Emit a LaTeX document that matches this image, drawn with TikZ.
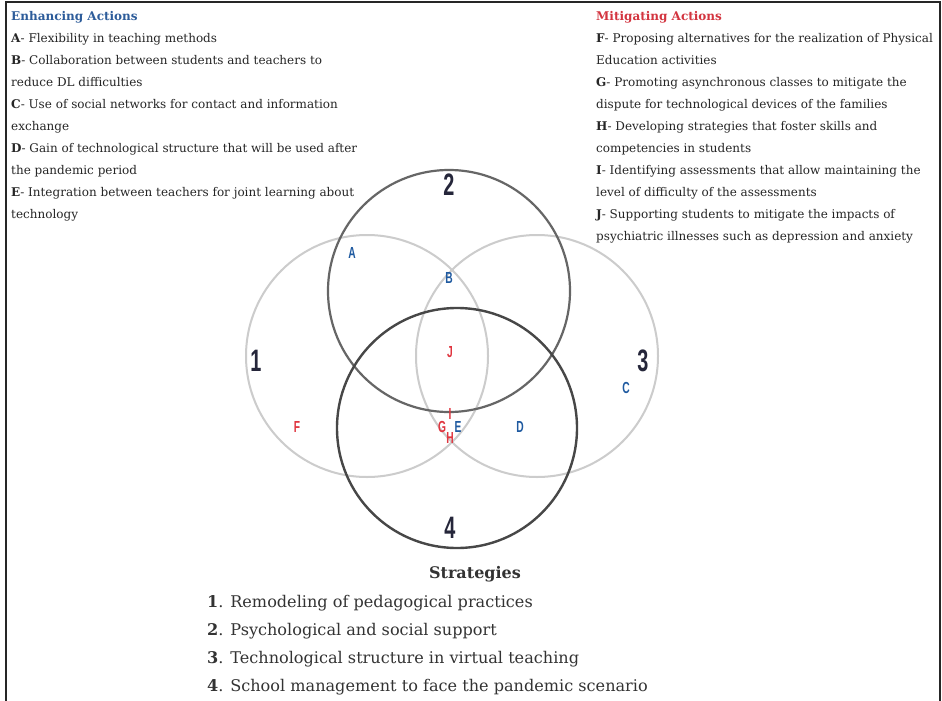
\documentclass[tikz,border=0pt]{standalone}
\usepackage{fontspec}
\usepackage{graphicx}
\setmainfont{DejaVu Serif}
\newfontfamily\numfont{Liberation Sans}
\usetikzlibrary{positioning}
\definecolor{enhblue}{HTML}{2D5C9A}
\definecolor{mitred}{HTML}{D3343F}
\definecolor{labblue}{HTML}{1F5AA0}
\definecolor{labred}{HTML}{E0353F}
\definecolor{numdark}{HTML}{25263A}
\newcommand{\condensed}[1]{\scalebox{0.64}[1]{#1}}

\begin{document}
\begin{tikzpicture}[x=1pt, y=-1pt,
	txt/.style={anchor=base west, inner sep=0pt, font=\fontsize{12}{14}\selectfont, text=black!85},
	strat/.style={anchor=base west, inner sep=0pt, font=\fontsize{16.1}{18}\selectfont, text=black!80},
	setnum/.style={inner sep=0pt, font=\numfont\bfseries\fontsize{31}{31}\selectfont, text=numdark},
	blue lab/.style={inner sep=0pt, font=\numfont\bfseries\fontsize{16}{16}\selectfont, text=labblue},
	red lab/.style={inner sep=0pt, font=\numfont\bfseries\fontsize{16}{16}\selectfont, text=labred}]
		\useasboundingbox (0,0) rectangle (942,701);
		\fill[white] (0,0) rectangle (942,701);
		%\draw [help lines, step=50] (0,0) grid (942,701);
		\draw [line width=2.2pt, black!85] (6,701) -- (6,2) -- (940,2) -- (940,701);

		% sets
		\coordinate (c1) at (367,356);
		\coordinate (c2) at (449,291);
		\coordinate (c3) at (537,356);
		\coordinate (c4) at (457,428);
		\draw [line width=2pt, black!20] (c1) circle [radius=121];
		\draw [line width=2pt, black!20] (c3) circle [radius=121];
		\draw [line width=2.2pt, black!60] (c2) circle [radius=121];
		\draw [line width=2.4pt, black!72] (c4) circle [radius=120];

		\node [setnum] (n1) at (256,361) {\condensed{1}};
		\node [setnum] (n2) at (449,185) {\condensed{2}};
		\node [setnum] (n3) at (643,361) {\condensed{3}};
		\node [setnum] (n4) at (450,528) {\condensed{4}};

		\node [blue lab] (A) at (352,253) {\condensed{A}};
		\node [blue lab] (B) at (449,278) {\condensed{B}};
		\node [blue lab] (C) at (626,388) {\condensed{C}};
		\node [blue lab] (D) at (520,427) {\condensed{D}};
		\node [blue lab] (E) at (458,427) {\condensed{E}};
		\node [red lab] (F) at (297,427) {\condensed{F}};
		\node [red lab] (G) at (442,427) {\condensed{G}};
		\node [red lab] (H) at (450,438) {\condensed{H}};
		\node [red lab] (I) at (450,414) {\condensed{I}};
		\node [red lab] (J) at (450,352) {\condensed{J}};

		% enhancing actions
		\foreach \t [count=\i from 0] in {
			{\textcolor{enhblue}{\textbf{Enhancing Actions}}},
			{\textbf{A}- Flexibility in teaching methods},
			{\textbf{B}- Collaboration between students and teachers to},
			{reduce DL difficulties},
			{\textbf{C}- Use of social networks for contact and information},
			{exchange},
			{\textbf{D}- Gain of technological structure that will be used after},
			{the pandemic period},
			{\textbf{E}- Integration between teachers for joint learning about},
			{technology}}
			\node [txt] (enh\i) at (11,{21+21.9*\i}) {\t};

		% mitigating actions
		\foreach \t [count=\i from 0] in {
			{\textcolor{mitred}{\textbf{Mitigating Actions}}},
			{\textbf{F}- Proposing alternatives for the realization of Physical},
			{Education activities},
			{\textbf{G}- Promoting asynchronous classes to mitigate the},
			{dispute for technological devices of the families},
			{\textbf{H}- Developing strategies that foster skills and},
			{competencies in students},
			{\textbf{I}- Identifying assessments that allow maintaining the},
			{level of difficulty of the assessments},
			{\textbf{J}- Supporting students to mitigate the impacts of},
			{psychiatric illnesses such as depression and anxiety}}
			\node [txt] (mit\i) at (596,{21+21.9*\i}) {\t};

		% strategies
		\node [strat, anchor=base, font=\bfseries\fontsize{16}{18}\selectfont] (strat) at (475,578) {Strategies};
		\foreach \t [count=\i] in {
			{Remodeling of pedagogical practices},
			{Psychological and social support},
			{Technological structure in virtual teaching},
			{School management to face the pandemic scenario}}
			\node [strat] (s\i) at (207,{579+28*\i}) {\textbf{\i}. \t};
	\end{tikzpicture}
\end{document}
